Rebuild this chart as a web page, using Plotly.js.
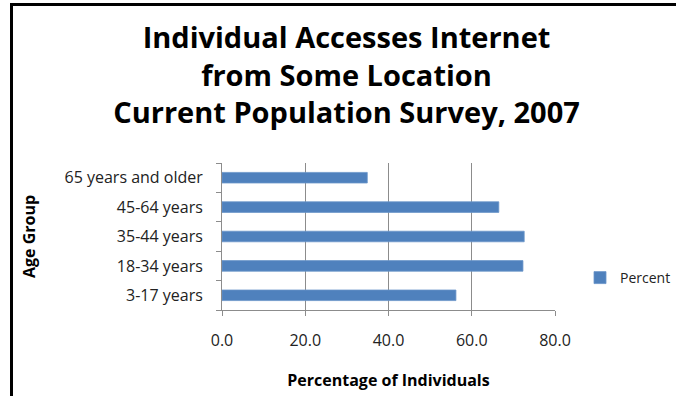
<!DOCTYPE html>
<html>
<head>
<meta charset="utf-8">
<script src="https://cdn.plot.ly/plotly-3.0.1.min.js"></script>
<style>
  html, body { margin: 0; padding: 0; background: #fff; }
  #wrap { position: relative; width: 676px; height: 396px; overflow: hidden; }
  #chart { position: absolute; left: 0; top: 0; width: 676px; height: 396px; }
  #frame { position: absolute; left: 10px; top: 3px; width: 700px; height: 420px;
           border-left: 3px solid #000; border-top: 3px solid #000; pointer-events: none; }
</style>
</head>
<body>
<div id="wrap">
  <div id="chart"></div>
  <div id="frame"></div>
</div>
<script>
const categories = ["3-17 years", "18-34 years", "35-44 years", "45-64 years", "65 years and older"];
const percent = [56.2, 72.3, 72.6, 66.5, 34.9];
const seriesName = "Percent";
const xTicks = [0, 20, 40, 60, 80];

const FONT = "'Open Sans', 'Noto Sans', sans-serif";

const trace = {
  type: "bar",
  orientation: "h",
  name: seriesName,
  y: categories,
  x: percent,
  marker: { color: "#4f81bd", line: { color: "#6b96c9", width: 0.8 } },
  showlegend: true,
  hoverinfo: "none"
};

const layout = {
  width: 676, height: 396,
  paper_bgcolor: "#fff", plot_bgcolor: "#fff",
  margin: { l: 222, r: 121, t: 163, b: 86, autoexpand: false },
  font: { family: FONT, color: "#222", size: 16 },
  bargap: 0.64,
  title: {
    text: "Individual Accesses Internet<br>from Some Location<br>Current Population Survey, 2007",
    font: { family: FONT, size: 29, color: "#000", weight: "bold" },
    x: 0.5126, xref: "container", xanchor: "center",
    y: 1 - 48/396, yref: "container", yanchor: "middle"
  },
  xaxis: {
    range: [0, 80],
    tickvals: xTicks,
    tickformat: ".1f",
    automargin: false,
    showgrid: true, gridcolor: "#8c8c8c", gridwidth: 1,
    showline: true, linecolor: "#8c8c8c", linewidth: 1,
    zeroline: false,
    ticks: "outside", ticklen: 5, tickcolor: "#8c8c8c",
    ticklabelstandoff: 11,
    tickfont: { family: FONT, size: 16, color: "#222" },
    title: { text: "Percentage of Individuals", font: { family: FONT, size: 16, color: "#000", weight: "bold" }, standoff: 24 },
    fixedrange: true
  },
  yaxis: {
    type: "category",
    automargin: false,
    showgrid: false,
    showline: true, linecolor: "#8c8c8c", linewidth: 1,
    ticks: "outside", ticklen: 5, tickcolor: "#8c8c8c",
    tickson: "boundaries",
    ticklabelstandoff: 15,
    tickfont: { family: FONT, size: 16, color: "#222" },
    title: { text: "Age Group", font: { family: FONT, size: 16, color: "#000", weight: "bold" }, standoff: 24 },
    fixedrange: true
  },
  legend: {
    xref: "container", yref: "container",
    x: 580/676, xanchor: "left",
    y: 1 - 278/396, yanchor: "middle",
    font: { family: FONT, size: 14, color: "#222" },
    bgcolor: "rgba(0,0,0,0)", borderwidth: 0
  }
};

Plotly.newPlot("chart", [trace], layout, { displayModeBar: false, staticPlot: true });
</script>
</body>
</html>
